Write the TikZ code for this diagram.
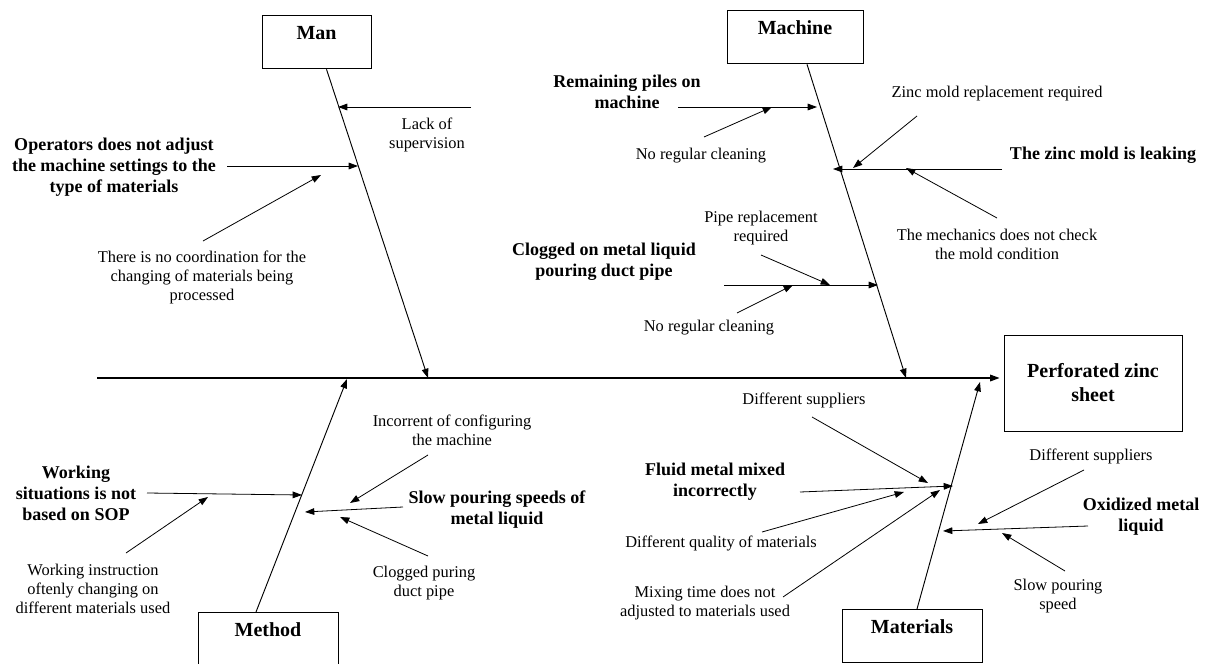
\documentclass[tikz,border=0pt]{standalone}
\usepackage{fontspec}
\setmainfont{Liberation Serif}
\usetikzlibrary{arrows.meta,positioning}

\newcommand{\catfont}{\fontsize{15}{18}\selectfont\bfseries}
\newcommand{\causefont}{\fontsize{13.5}{15.75}\selectfont\bfseries}
\newcommand{\subfont}{\fontsize{12.3}{14.25}\selectfont}

\tikzset{
  bone/.style = {line width=0.7pt},
  arr/.style = {line width=0.6pt, -{Triangle[length=7pt,width=5pt]}},
  catbox/.style = {draw, line width=0.7pt, inner xsep=0pt, inner ysep=0pt,
                   text height=18pt, text depth=22pt, anchor=north, font=\catfont},
  effectbox/.style = {draw, line width=0.7pt, minimum width=133.5pt,
                      minimum height=72pt, align=center, font=\catfont},
  cause/.style = {align=center, font=\causefont},
  subcause/.style = {align=center, font=\subfont}
}

\begin{document}
\begin{tikzpicture}[x=0.75pt, y=-0.75pt]
\useasboundingbox (0, 0) rectangle (1215, 664);
%\draw [help lines, step=50] (0, 0) grid (1215, 664);

% head and spine
\node [effectbox] (effect) at (1093, 383) {Perforated zinc\\sheet};
\coordinate (tail) at (97, 378);
\draw [arr, line width=0.8pt, shorten >=3pt] (tail) -- (tail -| effect.west);

% the four categories
\node [catbox, minimum width=81.75pt] (man) at (316.5, 15) {Man};
\node [catbox, minimum width=102pt] (machine) at (795, 10) {Machine};
\node [catbox, minimum width=105pt] (method) at (268, 612) {Method};
\node [catbox, minimum width=105pt] (materials) at (912, 609) {Materials};

\coordinate (manhit) at (428, 378);
\coordinate (machinehit) at (906, 378);
\coordinate (methodhit) at (347, 379);
\coordinate (materialshit) at (980, 382);
\draw [arr, bone] ([xshift=7.5pt]man.south) -- (manhit);
\draw [arr, bone] ([xshift=9pt]machine.south) -- (machinehit);
\draw [arr, bone] ([xshift=-9pt]method.north) -- (methodhit);
\draw [arr, bone] ([xshift=3.75pt]materials.north) -- (materialshit);

% Man
\node [subcause] (lack) at (427, 135) {Lack of\\supervision};
\coordinate (lack0) at (471, 107);
\coordinate (lack1) at (338, 107);
\draw [arr] (lack0) -- (lack1);
\node [cause] (oper) at (114, 167) {Operators does not adjust\\the machine settings to the\\type of materials};
\coordinate (oper0) at (227, 166);
\coordinate (oper1) at (358, 166);
\draw [arr] (oper0) -- (oper1);
\node [subcause] (coord) at (202, 277) {There is no coordination for the\\changing of materials being\\processed};
\coordinate (coord0) at (203, 241);
\coordinate (coord1) at (321, 175);
\draw [arr] (coord0) -- (coord1);

% Machine
\node [cause] (piles) at (627, 92) {Remaining piles on\\machine};
\coordinate (piles0) at (678, 107);
\coordinate (piles1) at (817, 107);
\draw [arr] (piles0) -- (piles1);
\node [subcause] (clean) at (701, 156) {No regular cleaning};
\coordinate (clean0) at (704, 137);
\coordinate (clean1) at (772, 107);
\draw [arr] (clean0) -- (clean1);
\node [cause] (leak) at (1103, 155) {The zinc mold is leaking};
\coordinate (leak0) at (1002, 169);
\coordinate (leak1) at (833, 169);
\draw [arr] (leak0) -- (leak1);
\node [subcause] (zincrep) at (997, 94) {Zinc mold replacement required};
\coordinate (zincrep0) at (917, 116);
\coordinate (zincrep1) at (853, 168);
\draw [arr] (zincrep0) -- (zincrep1);
\node [subcause] (mech) at (997, 244) {The mechanics does not check\\the mold condition};
\coordinate (mech0) at (997, 218);
\coordinate (mech1) at (906, 168);
\draw [arr] (mech0) -- (mech1);
\node [cause] (clog) at (604, 262) {Clogged on metal liquid\\pouring duct pipe};
\coordinate (clog0) at (724, 285);
\coordinate (clog1) at (878, 285);
\draw [arr] (clog0) -- (clog1);
\node [subcause] (pipe) at (761, 228) {Pipe replacement\\required};
\coordinate (pipe0) at (761, 255);
\coordinate (pipe1) at (830, 285);
\draw [arr] (pipe0) -- (pipe1);
\node [subcause] (cleantwo) at (709, 328) {No regular cleaning};
\coordinate (cleantwo0) at (737, 313);
\coordinate (cleantwo1) at (793, 285);
\draw [arr] (cleantwo0) -- (cleantwo1);

% Method
\node [cause] (work) at (76, 493) {Working\\situations is not\\based on SOP};
\coordinate (work0) at (147, 493);
\coordinate (work1) at (302, 495);
\draw [arr] (work0) -- (work1);
\node [subcause] (instr) at (93, 589) {Working instruction\\oftenly changing on\\different materials used};
\coordinate (instr0) at (126, 553);
\coordinate (instr1) at (208, 497);
\draw [arr] (instr0) -- (instr1);
\node [cause] (slow) at (497, 510) {Slow pouring speeds of\\metal liquid};
\coordinate (slow0) at (403, 507);
\coordinate (slow1) at (305, 512);
\draw [arr] (slow0) -- (slow1);
\node [subcause] (config) at (452, 430) {Incorrent of configuring\\the machine};
\coordinate (config0) at (428, 455);
\coordinate (config1) at (350, 503);
\draw [arr] (config0) -- (config1);
\node [subcause] (puring) at (424, 583) {Clogged puring\\duct pipe};
\coordinate (puring0) at (428, 556);
\coordinate (puring1) at (340, 517);
\draw [arr] (puring0) -- (puring1);

% Materials
\node [cause] (fluid) at (715, 482) {Fluid metal mixed\\incorrectly};
\coordinate (fluid0) at (800, 492);
\coordinate (fluid1) at (953, 486);
\draw [arr] (fluid0) -- (fluid1);
\node [subcause] (supp) at (804, 400) {Different suppliers};
\coordinate (supp0) at (812, 417);
\coordinate (supp1) at (928, 483);
\draw [arr] (supp0) -- (supp1);
\node [subcause] (quality) at (721, 543) {Different quality of materials};
\coordinate (quality0) at (762, 532);
\coordinate (quality1) at (904, 492);
\draw [arr] (quality0) -- (quality1);
\node [subcause] (mixing) at (705, 603) {Mixing time does not\\adjusted to materials used};
\coordinate (mixing0) at (783, 597);
\coordinate (mixing1) at (940, 490);
\draw [arr] (mixing0) -- (mixing1);
\node [cause] (oxid) at (1141, 517) {Oxidized metal\\liquid};
\coordinate (oxid0) at (1088, 526);
\coordinate (oxid1) at (943, 531);
\draw [arr] (oxid0) -- (oxid1);
\node [subcause] (supptwo) at (1091, 456) {Different suppliers};
\coordinate (supptwo0) at (1084, 470);
\coordinate (supptwo1) at (978, 524);
\draw [arr] (supptwo0) -- (supptwo1);
\node [subcause] (slowsp) at (1058, 596) {Slow pouring\\speed};
\coordinate (slowsp0) at (1065, 571);
\coordinate (slowsp1) at (1002, 533);
\draw [arr] (slowsp0) -- (slowsp1);
\end{tikzpicture}
\end{document}
